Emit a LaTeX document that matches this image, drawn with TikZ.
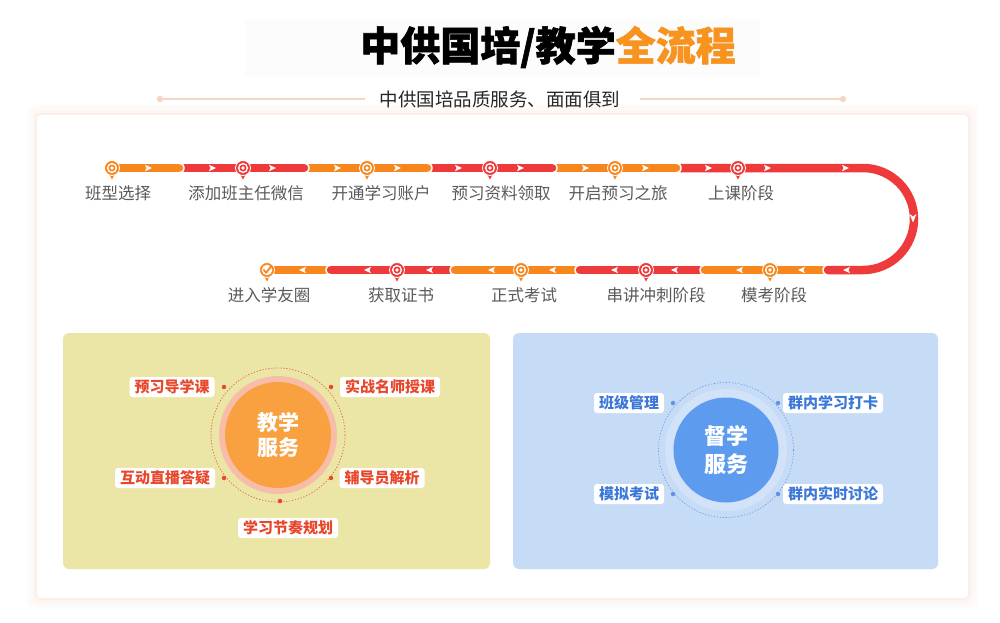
\documentclass[tikz,border=0pt]{standalone}
\usepackage{fontspec}
\setmainfont{Noto Sans CJK SC}
\newfontfamily\titlefont{Noto Sans CJK SC}[BoldFeatures={FakeBold=1.5}]
\definecolor{orng}{HTML}{F7861C}
\definecolor{rd}{HTML}{EE3A3A}
\definecolor{ttlorange}{HTML}{F7931E}
\definecolor{gtxt}{HTML}{5A5A5A}
\definecolor{peach}{HTML}{F3C9AE}
\definecolor{peachline}{HTML}{F6D6C2}
\definecolor{yel}{HTML}{ECE6A6}
\definecolor{blu}{HTML}{C6DBF5}
\definecolor{lbltxt}{HTML}{E8472B}
\definecolor{blutxt}{HTML}{3C78D8}
\definecolor{orangedisc}{HTML}{F9A040}
\definecolor{pinkring}{HTML}{F8BDA8}
\definecolor{bluedisc}{HTML}{5D9BEE}
\definecolor{bluering}{HTML}{D2E3F9}
\definecolor{bluedash}{HTML}{6A98E0}
\newcommand\segm[2]{\draw[halo] #2; \draw[segline,#1] #2;}
\newcommand\rarr[2]{\fill[white] (#1-3,#2-3.2) -- (#1+4,#2) -- (#1-3,#2+3.2) -- (#1-1.5,#2) -- cycle;}
\newcommand\larr[2]{\fill[white] (#1+3,#2-3.2) -- (#1-4,#2) -- (#1+3,#2+3.2) -- (#1+1.5,#2) -- cycle;}
\newcommand\pinmark[4]{%
  \fill[#4] (#2-4,#3+4) -- (#2+4,#3+4) -- (#2,#3+11.5) -- cycle;
  \node[circle, fill=#4, minimum size=15pt, inner sep=0pt, draw=white, line width=0.8pt] (#1) at (#2,#3) {};
  \fill[white] (#2,#3) circle[radius=5.1];
  \fill[#4] (#2,#3) circle[radius=3.5];
  \fill[white] (#2,#3) circle[radius=1.8];
}
\begin{document}
\begin{tikzpicture}[x=1pt,y=-1pt,
  segline/.style={line width=8.5pt, line cap=round},
  halo/.style={white, line width=11.5pt, line cap=round},
  steplabel/.style={text=gtxt, font=\fontsize{16.5}{18}\selectfont, inner sep=0pt},
  tag/.style={fill=white, rounded corners=3pt, font=\bfseries\fontsize{15}{17}\selectfont, inner xsep=5pt, inner ysep=0pt, minimum height=20pt},
  redtag/.style={tag, text=lbltxt},
  bluetag/.style={tag, text=blutxt},
  hubtext/.style={text=white, align=center, font=\bfseries\fontsize{21}{25}\selectfont, inner sep=0pt},
  reddot/.style={circle, fill=lbltxt, minimum size=4.5pt, inner sep=0pt},
  bluedot/.style={circle, fill=blutxt!80, minimum size=4.5pt, inner sep=0pt},
]
\useasboundingbox (0,0) rectangle (1000,622);
\fill[white] (0,0) rectangle (1000,622);
% faint title backdrop
\fill[black!1.2] (245,20) rectangle (760,76);
% title
\node[inner sep=0pt, font=\titlefont\bfseries\fontsize{40}{44}\selectfont] (title) at (548,47) {中供国培/教学\textcolor{ttlorange}{全流程}};
% subtitle
\node[inner sep=0pt, font=\fontsize{18.5}{20}\selectfont, text=black!85] (sub) at (500,99) {中供国培品质服务、面面俱到};
\coordinate (ll) at (160,99);
\coordinate (rr) at (843,99);
\draw[peachline, line width=1.2pt] (ll) -- (365,99);
\draw[peachline, line width=1.2pt] (640,99) -- (rr);
\fill[peachline] (ll) circle[radius=3.2];
\fill[peachline] (rr) circle[radius=3.2];
% card with soft shadow
\foreach \i/\o in {10/0.04,7/0.06,4/0.08,2/0.10}
  \fill[peach, opacity=\o, rounded corners=6pt] (37-\i,115-\i) rectangle (968+\i,598+\i);
\fill[white, rounded corners=4pt] (37,115) rectangle (968,598);
% timeline segments (drawn last to first)
\segm{orng}{(331,270) -- (267,270)}
\segm{rd}{(455,270) -- (331,270)}
\segm{orng}{(580,270) -- (455,270)}
\segm{rd}{(705,270) -- (580,270)}
\segm{orng}{(828,270) -- (705,270)}
\segm{rd}{(676,168) -- (863,168) arc[start angle=-90, end angle=90, radius=51] -- (828,270)}
\segm{orng}{(552,168) -- (676,168)}
\segm{rd}{(427,168) -- (552,168)}
\segm{orng}{(304,168) -- (427,168)}
\segm{rd}{(179,168) -- (304,168)}
\segm{orng}{(112,168) -- (179,168)}
% arrows
\foreach \x in {148,212,272,337,397,458,520,585,645,708,767,845} {\rarr{\x}{168}}
\foreach \x in {847,802,740,675,615,553,492,430,368,303} {\larr{\x}{270}}
\fill[white] (909.5,214) -- (913,222.5) -- (916.5,214) -- (913,216.5) -- cycle;
% markers
\pinmark{m1}{112}{168}{orng}
\pinmark{m2}{243}{168}{rd}
\pinmark{m3}{367}{168}{orng}
\pinmark{m4}{490}{168}{rd}
\pinmark{m5}{615}{168}{orng}
\pinmark{m6}{738}{168}{rd}
\pinmark{m7}{770}{270}{orng}
\pinmark{m8}{646}{270}{rd}
\pinmark{m9}{521}{270}{orng}
\pinmark{m10}{397}{270}{rd}
\fill[orng] (263,274) -- (271,274) -- (267,281.5) -- cycle;
\node[circle, fill=orng, minimum size=15pt, inner sep=0pt, draw=white, line width=0.8pt] (m11) at (267,270) {};
\fill[white] (267,270) circle[radius=5.3];
\draw[orng, line width=1.8pt, line cap=round, line join=round] (263.8,270) -- (266.2,272.8) -- (270.8,266.6);
% labels
\node[steplabel] (l1) at (118,193) {班型选择};
\node[steplabel] (l2) at (246,193) {添加班主任微信};
\node[steplabel] (l3) at (381,193) {开通学习账户};
\node[steplabel] (l4) at (501,193) {预习资料领取};
\node[steplabel] (l5) at (618,193) {开启预习之旅};
\node[steplabel] (l6) at (741,193) {上课阶段};
\node[steplabel] (l7) at (774,295) {模考阶段};
\node[steplabel] (l8) at (656,295) {串讲冲刺阶段};
\node[steplabel] (l9) at (524,295) {正式考试};
\node[steplabel] (l10) at (401,295) {获取证书};
\node[steplabel] (l11) at (269,295) {进入学友圈};
% left panel
\fill[yel, rounded corners=6pt] (63,333) rectangle (490,569);
\draw[lbltxt!85, line width=0.7pt, dash pattern=on 1.3pt off 1.7pt] (278,435) circle[radius=67];
\fill[pinkring] (278,435) circle[radius=59];
\node[circle, fill=orangedisc, minimum size=106pt, inner sep=0pt] (teach) at (278,435) {};
\node[hubtext] at (teach) {教学\\服务};
\node[reddot] (d1) at (224,387) {};
\node[reddot] (d2) at (331,387) {};
\node[reddot] (d3) at (224,478) {};
\node[reddot] (d4) at (331,478) {};
\node[reddot] (d5) at (280,501) {};
\node[redtag] (t1) at (172,387) {预习导学课};
\node[redtag] (t2) at (390,387) {实战名师授课};
\node[redtag] (t3) at (165,478) {互动直播答疑};
\node[redtag] (t4) at (382,478) {辅导员解析};
\node[redtag] (t5) at (288,528) {学习节奏规划};
% right panel
\fill[blu, rounded corners=6pt] (513,333) rectangle (938,569);
\fill[bluering] (726,450) circle[radius=61];
\draw[bluedash, line width=0.6pt, dash pattern=on 1.3pt off 1.7pt] (726,450) circle[radius=67.5];
\node[circle, fill=bluedisc, minimum size=105pt, inner sep=0pt] (super) at (726,450) {};
\node[hubtext, font=\bfseries\fontsize{22}{28}\selectfont] at (super) {督学\\服务};
\node[bluedot] (e1) at (673,403) {};
\node[bluedot] (e2) at (778,403) {};
\node[bluedot] (e3) at (673,494) {};
\node[bluedot] (e4) at (778,494) {};
\node[bluetag] (b1) at (629,403) {班级管理};
\node[bluetag] (b2) at (833,403) {群内学习打卡};
\node[bluetag] (b3) at (629,494) {模拟考试};
\node[bluetag] (b4) at (833,494) {群内实时讨论};
\end{tikzpicture}
\end{document}
